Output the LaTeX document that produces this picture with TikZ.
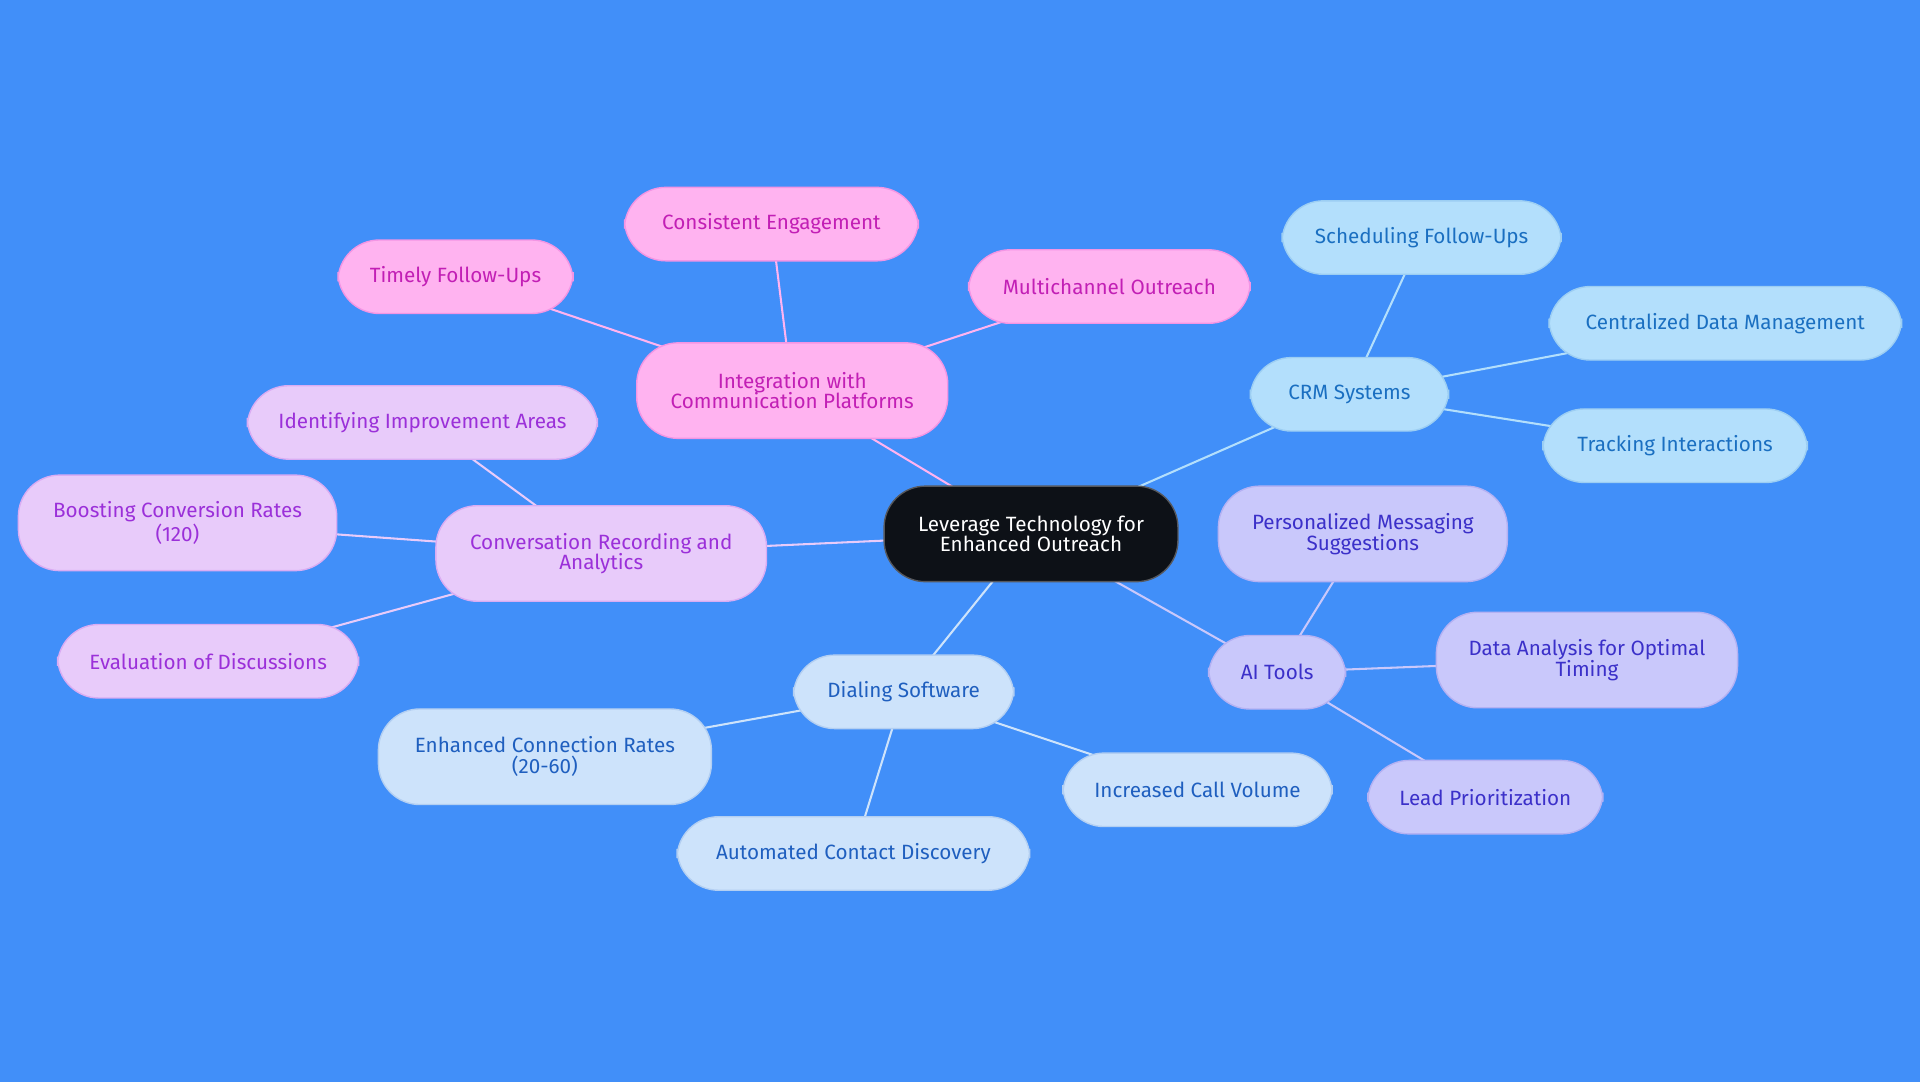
\documentclass[tikz,border=0pt]{standalone}
\usepackage{fontspec}
\setmainfont{Fira Sans}
\definecolor{bg}{HTML}{418FF9}
\definecolor{rootfill}{HTML}{0D1117}
\definecolor{pinkfill}{HTML}{FFB3F0}\definecolor{pinktext}{HTML}{C21FB5}
\definecolor{purpfill}{HTML}{E8CBFA}\definecolor{purptext}{HTML}{9B30D9}
\definecolor{crmfill}{HTML}{B3DFFC}\definecolor{crmtext}{HTML}{1A6FC1}
\definecolor{dialfill}{HTML}{CDE3FB}\definecolor{dialtext}{HTML}{1F5FBF}
\definecolor{aifill}{HTML}{C9C8FB}\definecolor{aitext}{HTML}{3B30C9}
\tikzset{
    box/.style={rounded corners=24pt,draw,line width=0.8pt,align=center,
        minimum width=#1*0.025cm,font=\fontsize{12}{12}\selectfont},
    one/.style={minimum height=1.5cm},
    two/.style={minimum height=1.95cm},
    pink/.style={fill=pinkfill,draw=pinkfill!80!pinktext,text=pinktext},
    purp/.style={fill=purpfill,draw=purpfill!80!purptext,text=purptext},
    crm/.style={fill=crmfill,draw=crmfill!85!crmtext,text=crmtext},
    dial/.style={fill=dialfill,draw=dialfill!85!dialtext,text=dialtext},
    ai/.style={fill=aifill,draw=aifill!85!aitext,text=aitext},
    link/.style={line width=1.2pt,draw=#1},
}
\begin{document}
\begin{tikzpicture}[x=0.025cm,y=-0.025cm]
    \fill[bg] (0,0) rectangle (1568,884);
    \useasboundingbox (0,0) rectangle (1568,884);
    % links first
    \coordinate (c) at (842,436);
    \coordinate (int) at (647,319);
    \coordinate (conv) at (491,452);
    \coordinate (crm) at (1102,322);
    \coordinate (dial) at (738,565);
    \coordinate (ai) at (1043,549);
    \draw[link=pinkfill] (c) -- (int) (int) -- (630,183) (int) -- (372,226) (int) -- (906,234);
    \draw[link=purpfill] (c) -- (conv) (conv) -- (345,345) (conv) -- (145,427) (conv) -- (170,540);
    \draw[link=crmfill] (c) -- (crm) (crm) -- (1161,194) (crm) -- (1409,264) (crm) -- (1368,364);
    \draw[link=dialfill] (c) -- (dial) (dial) -- (445,618) (dial) -- (697,697) (dial) -- (978,645);
    \draw[link=aifill] (c) -- (ai) (ai) -- (1113,436) (ai) -- (1296,539) (ai) -- (1213,651);
    % root
    \node[box=240,two,fill=rootfill,draw=rootfill!70!white,text=white] (root) at (c) {Leverage Technology for\\Enhanced Outreach};
    % integration
    \node[box=254,two,pink] (integ) at (int) {Integration with\\Communication Platforms};
    \node[box=240,one,pink] (consist) at (630,183) {Consistent Engagement};
    \node[box=192,one,pink] (timely) at (372,226) {Timely Follow-Ups};
    \node[box=230,one,pink] (multi) at (906,234) {Multichannel Outreach};
    % conversation
    \node[box=270,two,purp] (convrec) at (conv) {Conversation Recording and\\Analytics};
    \node[box=286,one,purp] (ident) at (345,345) {Identifying Improvement Areas};
    \node[box=260,two,purp] (boost) at (145,427) {Boosting Conversion Rates\\(120)};
    \node[box=246,one,purp] (eval) at (170,540) {Evaluation of Discussions};
    % crm
    \node[box=162,one,crm] (crmsys) at (crm) {CRM Systems};
    \node[box=228,one,crm] (sched) at (1161,194) {Scheduling Follow-Ups};
    \node[box=288,one,crm] (central) at (1409,264) {Centralized Data Management};
    \node[box=216,one,crm] (track) at (1368,364) {Tracking Interactions};
    % dialing
    \node[box=180,one,dial] (dialing) at (dial) {Dialing Software};
    \node[box=272,two,dial] (enh) at (445,618) {Enhanced Connection Rates\\(20-60)};
    \node[box=288,one,dial] (auto) at (697,697) {Automated Contact Discovery};
    \node[box=220,one,dial] (incr) at (978,645) {Increased Call Volume};
    % ai
    \node[box=112,one,ai] (aitools) at (ai) {AI Tools};
    \node[box=236,two,ai] (pers) at (1113,436) {Personalized Messaging\\Suggestions};
    \node[box=246,two,ai] (data) at (1296,539) {Data Analysis for Optimal\\Timing};
    \node[box=192,one,ai] (lead) at (1213,651) {Lead Prioritization};
\end{tikzpicture}
\end{document}
